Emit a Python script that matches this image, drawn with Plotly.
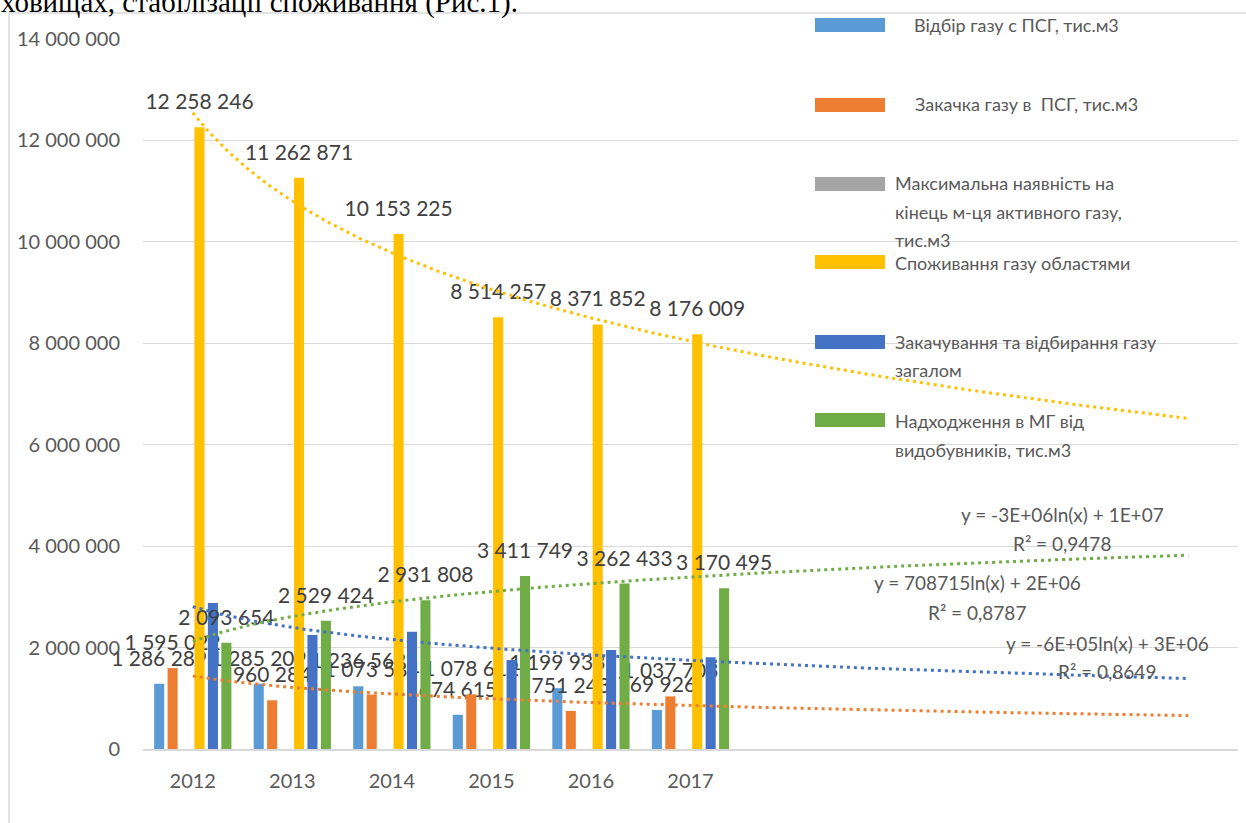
import numpy as np
import plotly.graph_objects as go

# ---------------- data ----------------
years = ["2012", "2013", "2014", "2015", "2016", "2017"]
vidbir_psg = [1286289, 1285209, 1236562, 674615, 1199933, 769926]
zakachka_psg = [1595022, 960284, 1073584, 1078612, 751243, 1037703]
max_nayavnist = [None, None, None, None, None, None]
spozhyvannya = [12258246, 11262871, 10153225, 8514257, 8371852, 8176009]
zagalom = [2881311, 2245493, 2310146, 1753227, 1951176, 1807629]
nadkhodzhennya = [2093654, 2529424, 2931808, 3411749, 3262433, 3170495]

names = [
    "   Відбір газу с ПСГ, тис.м3",
    "    Закачка газу в  ПСГ, тис.м3",
    "Максимальна наявність на<br>кінець м-ця активного газу,<br>тис.м3",
    "Споживання газу областями",
    "Закачування та відбирання газу<br>загалом",
    "Надходження в МГ від<br>видобувників, тис.м3",
]
colors = ["#5B9BD5", "#ED7D31", "#A5A5A5", "#FFC000", "#4472C4", "#70AD47"]
series = [vidbir_psg, zakachka_psg, max_nayavnist, spozhyvannya, zagalom, nadkhodzhennya]
show_labels = [True, True, False, True, False, True]

trend_eq = {
    3: ("y = -3E+06ln(x) + 1E+07", "R² = 0,9478"),
    5: ("y = 708715ln(x) + 2E+06", "R² = 0,8787"),
    4: ("y = -6E+05ln(x) + 3E+06", "R² = 0,8649"),
}
trend_series = [1, 3, 4, 5]
forward_periods = 5

# ---------------- layout geometry ----------------
W, H = 1246, 823
ML, MR, MT, MB = 143, 8, 39, 74
PW, PH = W - ML - MR, H - MT - MB


def px(x):
    return (x - ML) / PW


def py(y):
    return (H - MB - y) / PH


FONT = "Lato"
TXT = "#595959"
LBL = "#404040"

fig = go.Figure()
xpos = list(range(1, len(years) + 1))


def fmt(v):
    return f"{v:,}".replace(",", " ")


for i, (vals, nm, col) in enumerate(zip(series, names, colors)):
    if show_labels[i]:
        txt = [fmt(v) if v is not None else "" for v in vals]
    else:
        txt = None
    fig.add_trace(go.Bar(
        x=xpos, y=vals, name=nm, marker=dict(color=col, line=dict(width=0)),
        text=txt,
        texttemplate="<span style='font-size:21px'>%{text}</span><br>\u00a0" if txt else None,
        textposition="outside" if txt else "none",
        textfont=dict(family=FONT, size=10, color=LBL),
        constraintext="none", cliponaxis=False, showlegend=False,
    ))

# logarithmic trendlines (least squares on ln(x))
xs = np.array(xpos, dtype=float)
xf = np.linspace(1, len(years) + forward_periods, 300)
for i in trend_series:
    ys = np.array(series[i], dtype=float)
    b, a = np.polyfit(np.log(xs), ys, 1)
    fig.add_trace(go.Scatter(
        x=xf, y=a + b * np.log(xf), mode="lines",
        line=dict(color=colors[i], width=3, dash="3px,4px"),
        showlegend=False, hoverinfo="skip", cliponaxis=False,
    ))

# equation labels
eq_pos = {3: (1062, 514, 543), 5: (977, 582, 612), 4: (1107, 643, 671)}
for i, (eq, r2) in trend_eq.items():
    cx, y1, y2 = eq_pos[i]
    for t, yy in ((eq, y1), (r2, y2)):
        fig.add_annotation(x=px(cx), y=py(yy), xref="paper", yref="paper", text=t,
                           showarrow=False, xanchor="center", yanchor="middle",
                           font=dict(family=FONT, size=19, color=TXT))

# manual legend (wide Excel-like swatches)
leg = [
    (25, 912, [25]),
    (105, 913, [104]),
    (184, 893, [183, 212, 240]),
    (262, 893, [263]),
    (342, 893, [342, 370]),
    (420, 893, [421, 450]),
]
for i, (sy, tx, lines) in enumerate(leg):
    fig.add_shape(type="rect", xref="paper", yref="paper",
                  x0=px(815), x1=px(885), y0=py(sy + 7), y1=py(sy - 7),
                  fillcolor=colors[i], line=dict(width=0))
    parts = names[i].strip().split("<br>")
    for t, ly in zip(parts, lines):
        fig.add_annotation(x=px(tx), y=py(ly), xref="paper", yref="paper", text=t,
                           showarrow=False, xanchor="left", yanchor="middle",
                           font=dict(family=FONT, size=18, color=TXT))

# chart border and document text above
fig.add_shape(type="rect", xref="paper", yref="paper",
              x0=px(9), x1=px(1260), y0=py(840), y1=py(13),
              line=dict(color="#d9d9d9", width=1.5), fillcolor="rgba(0,0,0,0)", layer="below")
fig.add_annotation(x=px(-1), y=py(2), xref="paper", yref="paper",
                   text="ховищах, стабілізації споживання (Рис.1).",
                   showarrow=False, xanchor="left", yanchor="middle",
                   font=dict(family="Liberation Serif", size=29, color="#000000"))

fig.update_layout(
    width=W, height=H,
    margin=dict(l=ML, r=MR, t=MT, b=MB, pad=0),
    paper_bgcolor="white", plot_bgcolor="white",
    barmode="group", bargap=0.19, bargroupgap=0.25,
    separators=", ",
    showlegend=False,
    font=dict(family=FONT, color=TXT),
    xaxis=dict(range=[0.5, len(years) + forward_periods + 0.5], tickmode="array",
               tickvals=xpos, ticktext=years, showgrid=False, zeroline=False,
               showline=True, linecolor="#d9d9d9", linewidth=1.5,
               ticks="", ticklabelstandoff=13,
               tickfont=dict(family=FONT, size=20, color=TXT)),
    yaxis=dict(range=[0, 14000000], dtick=2000000, tick0=0, tickformat=",d",
               showgrid=True, gridcolor="#d9d9d9", gridwidth=1.2, zeroline=False,
               showline=False, ticks="", ticklabelstandoff=22,
               tickfont=dict(family=FONT, size=20, color=TXT)),
)

fig.write_html("out.html", config={"displayModeBar": False},
               post_script="document.body.style.margin='0';document.body.style.padding='0';")
